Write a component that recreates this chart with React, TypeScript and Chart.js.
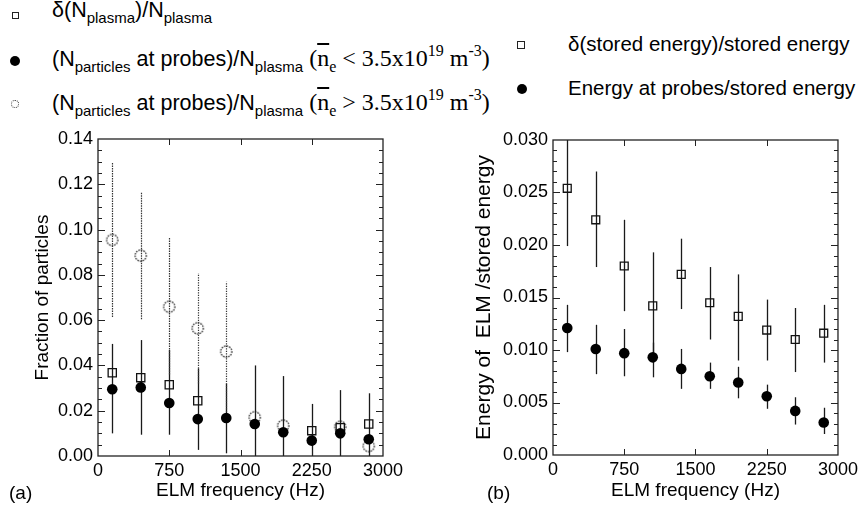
import React, { useEffect, useRef } from 'react';
import { Chart, registerables } from 'chart.js';

Chart.register(...registerables);

const SANS = 'Arial, "Liberation Sans", Helvetica, sans-serif';
const SERIF = '"Times New Roman", "Liberation Serif", Times, serif';

// ---- categories (ELM frequency, Hz) ----
const freq = [150, 450, 750, 1050, 1350, 1650, 1950, 2250, 2550, 2850];

// ---- tick labels ----
const xTickValues = [0, 750, 1500, 2250, 3000];
const aYTickValues = [0, 0.02, 0.04, 0.06, 0.08, 0.1, 0.12, 0.14];
const bYTickValues = [0, 0.005, 0.01, 0.015, 0.02, 0.025, 0.03];

// ---- panel (a): fraction of particles ----
const plasmaDelta = [0.0368, 0.0346, 0.0315, 0.0244, null, null, null, 0.0112, 0.0125, 0.0141];
const probesLow = [0.0295, 0.0303, 0.0234, 0.0163, 0.0168, 0.0141, 0.0105, 0.0068, 0.01, 0.0074];
const probesLowErrLo = [0.01, 0.0094, 0.0094, 0.0027, 0.0012, 0, 0, 0, 0, 0];
const probesLowErrHi = [0.0495, 0.0512, 0.0468, 0.0387, 0.032, 0.04, 0.0353, 0.023, 0.0291, 0.0277];
const probesHigh = [0.0954, 0.0885, 0.0659, 0.0564, 0.0461, 0.0171, 0.0134, null, 0.0129, 0.0044];
const probesHighErrLo = [0.0614, 0.0604, 0.036, 0.032, 0.015, null, null, null, null, null];
const probesHighErrHi = [0.1296, 0.1163, 0.0964, 0.0807, 0.077, null, null, null, null, null];

// ---- panel (b): energy of ELM / stored energy ----
const storedDelta = [0.0254, 0.0224, 0.018, 0.0142, 0.0172, 0.0145, 0.0132, 0.0119, 0.011, 0.0116];
const storedDeltaErrLo = [0.0199, 0.0179, 0.0137, 0.0095, 0.0139, 0.011, 0.009, 0.009, 0.0079, 0.0088];
const storedDeltaErrHi = [0.031, 0.027, 0.0224, 0.0193, 0.0206, 0.0179, 0.0172, 0.0148, 0.014, 0.0143];
const energyProbes = [0.0121, 0.0101, 0.0097, 0.0093, 0.0082, 0.0075, 0.0069, 0.0056, 0.0042, 0.0031];
const energyProbesErrLo = [0.0098, 0.0077, 0.0075, 0.0074, 0.0063, 0.0063, 0.0054, 0.0044, 0.0029, 0.002];
const energyProbesErrHi = [0.0143, 0.0124, 0.012, 0.0107, 0.0101, 0.0088, 0.0084, 0.0067, 0.0055, 0.0045];

const pts = (ys: (number | null)[]) => freq.map((f, i) => ({ x: f, y: ys[i] }));

function openCircle() {
  const c = document.createElement('canvas');
  c.width = 15;
  c.height = 15;
  const g = c.getContext('2d')!;
  g.setLineDash([1.5, 1.1]);
  g.strokeStyle = '#222';
  g.lineWidth = 1.2;
  g.beginPath();
  g.arc(7.5, 7.5, 5.6, 0, Math.PI * 2);
  g.stroke();
  return c;
}

const errorBarPlugin = {
  id: 'errbars',
  beforeDatasetsDraw(chart: any) {
    const { ctx, chartArea: a, scales } = chart;
    ctx.save();
    ctx.beginPath();
    ctx.rect(a.left, a.top, a.right - a.left, a.bottom - a.top);
    ctx.clip();
    chart.data.datasets.forEach((ds: any) => {
      if (!ds.errLo || !ds.errHi) return;
      ctx.strokeStyle = ds.errColor || '#111';
      ctx.lineWidth = ds.errWidth || 1.2;
      ctx.setLineDash(ds.errDash || []);
      ds.data.forEach((p: any, j: number) => {
        const lo = ds.errLo[j];
        const hi = ds.errHi[j];
        if (lo == null || hi == null) return;
        const x = Math.round(scales.x.getPixelForValue(p.x)) + 0.5;
        ctx.beginPath();
        ctx.moveTo(x, scales.y.getPixelForValue(lo));
        ctx.lineTo(x, scales.y.getPixelForValue(hi));
        ctx.stroke();
      });
    });
    ctx.restore();
  },
};

const framePlugin = {
  id: 'frame',
  afterDatasetsDraw(chart: any, _args: any, opts: any) {
    const { ctx, chartArea: a, scales } = chart;
    const xs = scales.x;
    const ys = scales.y;
    const line = (x1: number, y1: number, x2: number, y2: number) => {
      ctx.beginPath();
      ctx.moveTo(x1, y1);
      ctx.lineTo(x2, y2);
      ctx.stroke();
    };
    ctx.save();
    ctx.setLineDash([]);
    ctx.strokeStyle = '#222';
    ctx.lineWidth = 1.3;
    ctx.strokeRect(a.left, a.top, a.right - a.left, a.bottom - a.top);
    ctx.lineWidth = 1;
    const n = Math.round((ys.max - ys.min) / opts.yMinor);
    for (let k = 1; k < n; k++) {
      const v = ys.min + k * opts.yMinor;
      const p = Math.round(ys.getPixelForValue(v)) + 0.5;
      const len = k % opts.perMajor === 0 ? 7 : 4;
      line(a.left, p, a.left + len, p);
      line(a.right, p, a.right - len, p);
    }
    xs.ticks.forEach((t: any) => {
      if (t.value <= xs.min || t.value >= xs.max) return;
      const p = Math.round(xs.getPixelForValue(t.value)) + 0.5;
      line(p, a.bottom, p, a.bottom - 6);
      line(p, a.top, p, a.top + 6);
    });
    ctx.restore();
  },
};

function baseScales(opts: {
  yMax: number;
  yTicks: number[];
  yDigits: number;
  yTitle: string;
  yWidth: number;
  xHeight: number;
  yTitlePad: number;
  yTitleSize: number;
}) {
  const tickFont = { family: SANS, size: 18 };
  return {
    x: {
      type: 'linear',
      min: 0,
      max: 3000,
      afterBuildTicks: (s: any) => {
        s.ticks = xTickValues.map((v) => ({ value: v }));
      },
      afterFit: (s: any) => {
        s.height = opts.xHeight;
      },
      ticks: {
        callback: (v: any) => String(v),
        font: tickFont,
        color: '#000',
        padding: 4,
        maxRotation: 0,
        autoSkip: false,
      },
      grid: { display: false, drawTicks: false },
      border: { display: false },
      title: {
        display: true,
        text: 'ELM frequency (Hz)',
        font: { family: SANS, size: 19 },
        color: '#000',
        padding: { top: 0, bottom: 10 },
      },
    },
    y: {
      type: 'linear',
      min: 0,
      max: opts.yMax,
      afterBuildTicks: (s: any) => {
        s.ticks = opts.yTicks.map((v) => ({ value: v }));
      },
      afterFit: (s: any) => {
        s.width = opts.yWidth;
      },
      ticks: {
        callback: (v: any) => Number(v).toFixed(opts.yDigits),
        font: tickFont,
        color: '#000',
        padding: 5,
        autoSkip: false,
      },
      grid: { display: false, drawTicks: false },
      border: { display: false },
      title: {
        display: true,
        text: opts.yTitle,
        font: { family: SANS, size: opts.yTitleSize },
        color: '#000',
        padding: { top: opts.yTitlePad, bottom: 0 },
      },
    },
  };
}

function configA() {
  const oc = openCircle();
  return {
    type: 'scatter',
    data: {
      datasets: [
        {
          label: '(N particles at probes)/N plasma (ne < 3.5x10^19 m^-3)',
          data: pts(probesLow),
          pointStyle: 'circle',
          pointRadius: 5.3,
          backgroundColor: '#000',
          borderColor: '#000',
          pointBorderWidth: 0,
          errLo: probesLowErrLo,
          errHi: probesLowErrHi,
          errColor: '#1a1a1a',
          errWidth: 1.3,
        },
        {
          label: 'δ(N plasma)/N plasma',
          data: pts(plasmaDelta),
          pointStyle: 'rect',
          pointRadius: 5.8,
          backgroundColor: 'rgba(0,0,0,0)',
          borderColor: '#111',
          pointBorderWidth: 1.3,
        },
        {
          label: '(N particles at probes)/N plasma (ne > 3.5x10^19 m^-3)',
          data: pts(probesHigh),
          pointStyle: oc,
          backgroundColor: 'rgba(0,0,0,0)',
          borderColor: '#222',
          errLo: probesHighErrLo,
          errHi: probesHighErrHi,
          errColor: '#333',
          errWidth: 1.2,
          errDash: [1.4, 1.1],
        },
      ],
    },
    options: {
      animation: false,
      responsive: false,
      events: [],
      layout: { padding: { top: 19, right: 57, left: 0, bottom: 0 } },
      plugins: {
        legend: { display: false },
        tooltip: { enabled: false },
        frame: { yMinor: 0.005, perMajor: 4 },
      },
      scales: baseScales({
        yMax: 0.14,
        yTicks: aYTickValues,
        yDigits: 2,
        yTitle: 'Fraction of particles',
        yWidth: 98,
        xHeight: 56,
        yTitlePad: 31,
        yTitleSize: 19,
      }),
    },
    plugins: [errorBarPlugin, framePlugin],
  };
}

function configB() {
  return {
    type: 'scatter',
    data: {
      datasets: [
        {
          label: 'Energy at probes/stored energy',
          data: pts(energyProbes),
          pointStyle: 'circle',
          pointRadius: 5.3,
          backgroundColor: '#000',
          borderColor: '#000',
          pointBorderWidth: 0,
          errLo: energyProbesErrLo,
          errHi: energyProbesErrHi,
          errColor: '#1a1a1a',
          errWidth: 1.3,
        },
        {
          label: 'δ(stored energy)/stored energy',
          data: pts(storedDelta),
          pointStyle: 'rect',
          pointRadius: 5.6,
          backgroundColor: 'rgba(0,0,0,0)',
          borderColor: '#111',
          pointBorderWidth: 1.3,
          errLo: storedDeltaErrLo,
          errHi: storedDeltaErrHi,
          errColor: '#1a1a1a',
          errWidth: 1.3,
        },
      ],
    },
    options: {
      animation: false,
      responsive: false,
      events: [],
      layout: { padding: { top: 20, right: 23, left: 0, bottom: 0 } },
      plugins: {
        legend: { display: false },
        tooltip: { enabled: false },
        frame: { yMinor: 0.001, perMajor: 5 },
      },
      scales: baseScales({
        yMax: 0.03,
        yTicks: bYTickValues,
        yDigits: 3,
        yTitle: 'Energy of  ELM /stored energy',
        yWidth: 113,
        xHeight: 57,
        yTitlePad: 32,
        yTitleSize: 21,
      }),
    },
    plugins: [errorBarPlugin, framePlugin],
  };
}

function ChartCanvas({ make, left, top, width, height }: any) {
  const ref = useRef<HTMLCanvasElement>(null);
  useEffect(() => {
    const chart = new Chart(ref.current as HTMLCanvasElement, make());
    return () => chart.destroy();
  }, []);
  return (
    <canvas
      ref={ref}
      width={width}
      height={height}
      style={{ position: 'absolute', left, top, width, height }}
    />
  );
}

const sub = (t: string, size = 15, dy = 6) => (
  <span style={{ fontSize: size, position: 'relative', top: dy, lineHeight: 1 }}>{t}</span>
);
const sup = (t: string, size = 16, dy = -10) => (
  <span style={{ fontSize: size, position: 'relative', top: dy, lineHeight: 1 }}>{t}</span>
);

function densityNote(op: string) {
  return (
    <span style={{ fontFamily: SERIF, fontSize: 24, lineHeight: 1 }}>
      {' ('}
      <span style={{ textDecoration: 'overline' }}>n</span>
      {sub('e', 16, 6)}
      {` ${op} 3.5x10`}
      {sup('19', 16, -10)}
      {' m'}
      {sup('-3', 16, -10)}
      {')'}
    </span>
  );
}

const textLine = (top: number, left: number, size: number, children: any) => (
  <div
    style={{
      position: 'absolute',
      left,
      top,
      fontFamily: SANS,
      fontSize: size,
      lineHeight: '24px',
      whiteSpace: 'nowrap',
      color: '#000',
    }}
  >
    {children}
  </div>
);

export default function App() {
  return (
    <div
      style={{
        position: 'absolute',
        left: 0,
        top: 0,
        width: 862,
        height: 512,
        background: '#fff',
        overflow: 'hidden',
      }}
    >
      <ChartCanvas make={configA} left={0} top={120} width={440} height={392} />
      <ChartCanvas make={configB} left={440} top={120} width={422} height={392} />

      {/* legend (a) */}
      <div style={{ position: 'absolute', left: 12, top: 12, width: 7, height: 7, border: '1px solid #222', boxSizing: 'border-box' }} />
      <div style={{ position: 'absolute', left: 10, top: 56, width: 10, height: 10, borderRadius: '50%', background: '#000' }} />
      <div style={{ position: 'absolute', left: 11, top: 100, width: 8, height: 8, borderRadius: '50%', border: '1px dotted #333', boxSizing: 'border-box' }} />
      {textLine(-2, 52, 21.5, <>δ(N{sub('plasma')})/N{sub('plasma')}</>)}
      {textLine(46, 52, 21.5, <>(N{sub('particles')} at probes)/N{sub('plasma')}{densityNote('<')}</>)}
      {textLine(90, 52, 21.5, <>(N{sub('particles')} at probes)/N{sub('plasma')}{densityNote('>')}</>)}

      {/* legend (b) */}
      <div style={{ position: 'absolute', left: 517, top: 41, width: 8, height: 8, border: '1.2px solid #222', boxSizing: 'border-box' }} />
      <div style={{ position: 'absolute', left: 517, top: 84, width: 10, height: 10, borderRadius: '50%', background: '#000' }} />
      {textLine(32, 568, 20.5, <>δ(stored energy)/stored energy</>)}
      {textLine(76, 568, 20.5, <>Energy at probes/stored energy</>)}

      {/* panel labels */}
      {textLine(481, 9, 19, <>(a)</>)}
      {textLine(481, 487, 19, <>(b)</>)}
    </div>
  );
}
